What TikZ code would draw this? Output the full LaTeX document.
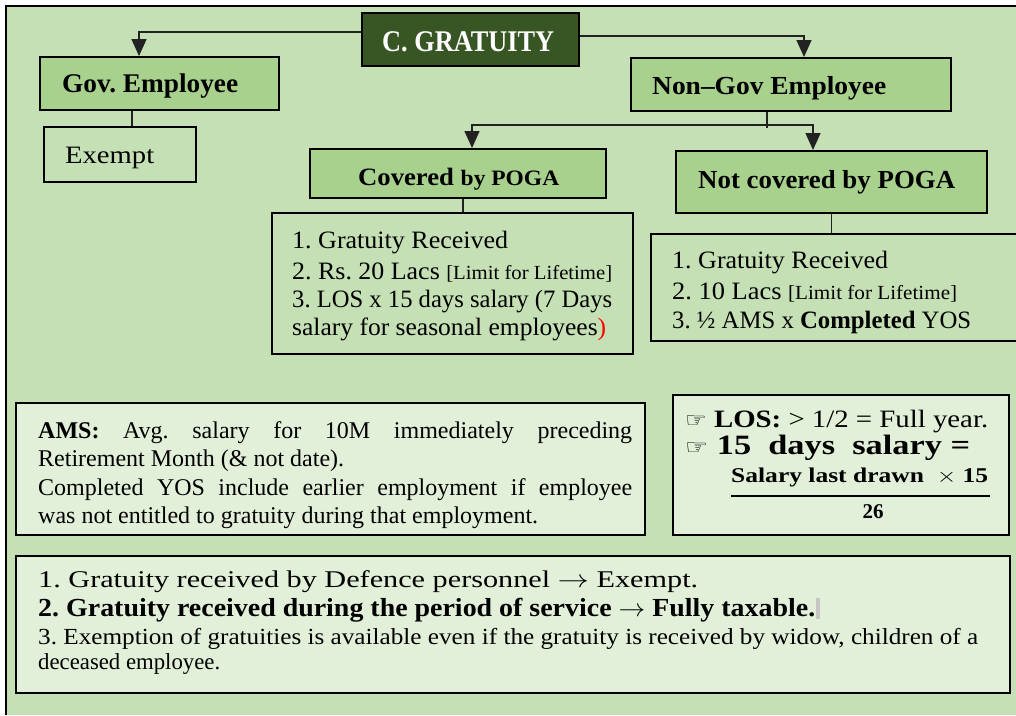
\documentclass[tikz,border=0pt]{standalone}
\usepackage{fontspec}
\usepackage{graphicx}
\setmainfont{Liberation Serif}
\newfontfamily\symfont{DejaVu Sans}
\usetikzlibrary{arrows.meta}
\definecolor{bggreen}{HTML}{C5E0B4}
\definecolor{midgreen}{HTML}{A9D18E}
\definecolor{dkgreen}{HTML}{375623}
\definecolor{ltgreen}{HTML}{E2F0D9}
\definecolor{connline}{HTML}{222222}
% squeeze or widen a line to a given width, keeping its height
\newcommand{\fitw}[2]{\resizebox{#1pt}{\height}{#2}}
\newcommand{\fsz}[1]{\fontsize{#1}{#1}\selectfont}
\newcommand{\hand}{{\symfont\fsz{21}\char"261E}}
\frenchspacing

\begin{document}
\begin{tikzpicture}[x=1pt,y=-1pt,
  box/.style={draw=black, line width=2pt, inner sep=0pt},
  txt/.style={inner sep=0pt, anchor=base west},
  conn/.style={draw=connline, line width=1.5pt},
  arr/.style={conn, -{Triangle[length=17pt,width=15pt]}}]
\useasboundingbox (0,0) rectangle (1016,715);
\fill[white] (0,0) rectangle (1016,715);
\fill[bggreen] (6,6) rectangle (1016,715);
\draw[line width=2.5pt] (6,715) -- (6,6) -- (1016,6);

% boxes
\node[box, fill=dkgreen, minimum width=217pt, minimum height=53pt] (grat) at (470.5,39.5) {};
\node[box, fill=midgreen, minimum width=239pt, minimum height=53pt] (gov) at (159.5,83.5) {};
\node[box, fill=midgreen, minimum width=320pt, minimum height=53pt] (nongov) at (791,84.5) {};
\node[box, fill=bggreen, minimum width=152pt, minimum height=55pt] (exempt) at (120,154.5) {};
\node[box, fill=midgreen, minimum width=296pt, minimum height=49pt] (cov) at (458,173.5) {};
\node[box, fill=midgreen, minimum width=311pt, minimum height=62pt] (notcov) at (831.5,182) {};
\node[box, fill=bggreen, minimum width=361pt, minimum height=141pt] (covlist) at (452.5,283.5) {};
\node[box, fill=bggreen, minimum width=380pt, minimum height=107pt] (notlist) at (841,287.5) {};
\node[box, fill=ltgreen, minimum width=629pt, minimum height=132pt] (ams) at (330.5,469) {};
\node[box, fill=ltgreen, minimum width=336pt, minimum height=140pt] (los) at (841,465) {};
\node[box, fill=ltgreen, minimum width=994pt, minimum height=137pt] (notes) at (513,624.5) {};

% connectors
\draw[arr] ([yshift=7.5pt]grat.west) -| ([xshift=-20.5pt]gov.north);
\draw[arr] ([yshift=3.5pt]grat.east) -| ([xshift=13pt]nongov.north);
\draw[conn] ([xshift=-27.5pt]gov.south) -- ([xshift=-27.5pt]gov.south |- exempt.north);
\coordinate (split) at (767,125);
\draw[conn] (nongov.south -| split) -- ([yshift=-3pt]split);
\draw[arr] (split) -| ([xshift=14pt]cov.north);
\draw[arr] (split) -| ([xshift=-18.5pt]notcov.north);
\draw[conn] ([xshift=5pt]cov.south) -- ([xshift=5pt]cov.south |- covlist.north);
\draw[conn] (notcov.south) -- (notcov.south |- notlist.north);

% headings
\node[txt, text=white, font=\bfseries\fsz{30}] (gratT) at (382,51) {\fitw{172}{C. GRATUITY}};
\node[txt, font=\bfseries\fsz{27}] (govT) at (62,92) {\fitw{176}{Gov. Employee}};
\node[txt, font=\bfseries\fsz{26}] (nongovT) at (652,94) {\fitw{234}{Non–Gov Employee}};
\node[txt, font=\fsz{25}] (exemptT) at (65,163) {\fitw{89}{Exempt}};
\node[txt, font=\bfseries\fsz{25}] (covT) at (358,185) {\fitw{201}{Covered {\fsz{22}by POGA}}};
\node[txt, font=\bfseries\fsz{26}] (notcovT) at (698,188) {\fitw{257}{Not covered by POGA}};

% covered by POGA
\begin{scope}[every node/.style={txt, font=\fsz{25}}]
\node (c1) at (292,248) {\fitw{216}{1. Gratuity Received}};
\node (c2) at (292,279) {\fitw{320}{2. Rs. 20 Lacs {\fsz{20}[Limit for Lifetime]}}};
\node (c3) at (292,307) {\fitw{320}{3. LOS x 15 days salary (7 Days}};
\node (c4) at (292,335) {\fitw{314}{salary for seasonal employees\textcolor{red}{)}}};
% not covered by POGA
\node (n1) at (672,268) {\fitw{216}{1. Gratuity Received}};
\node (n2) at (672,299) {\fitw{285}{2. 10 Lacs {\fsz{20}[Limit for Lifetime]}}};
\node (n3) at (672,328) {\fitw{299}{3. ½ AMS x \textbf{Completed} YOS}};
\end{scope}

% AMS note
\begin{scope}[every node/.style={txt, font=\fsz{24}}]
\node (a1) at (38,438) {\makebox[594pt][s]{\textbf{AMS:} Avg. salary for 10M immediately preceding}};
\node (a2) at (38,466) {Retirement Month (\& not date).};
\node (a3) at (38,495) {\makebox[594pt][s]{Completed YOS include earlier employment if employee}};
\node (a4) at (38,523) {was not entitled to gratuity during that employment.};
\end{scope}

% LOS note
\node[txt, font=\fsz{25}] (l1) at (685,427) {\fitw{303}{\hand\ \textbf{LOS:} > 1/2 = Full year.}};
\node[txt, font=\bfseries\fsz{28}] (l2) at (685,454) {\fitw{285}{\hand\ 15\ \ days\ \ salary =}};
\node[txt, font=\bfseries\fsz{21}] (l3) at (731,482) {\fitw{257}{Salary last drawn\ \ $\times$ 15}};
\draw[line width=2pt] (731,496) -- (990,496);
\node[inner sep=0pt, anchor=base, font=\bfseries\fsz{21}] (l4) at (873,518) {26};

% general notes
\node[txt, font=\fsz{24}] (g1) at (38,587) {\fitw{660}{1. Gratuity received by Defence personnel $\rightarrow$ Exempt.}};
\node[txt, font=\bfseries\fsz{26}] (g2) at (38,616) {\fitw{777}{2. Gratuity received during the period of service $\rightarrow$ Fully taxable.}};
\fill[gray!45] ([xshift=1pt]g2.base east) ++(0,3) rectangle ++(4,-21);
\node[txt, font=\fsz{23}] (g3) at (38,644) {\fitw{940}{3. Exemption of gratuities is available even if the gratuity is received by widow, children of a}};
\node[txt, font=\fsz{23}] (g4) at (38,669) {\fitw{182}{deceased employee.}};
\end{tikzpicture}
\end{document}
